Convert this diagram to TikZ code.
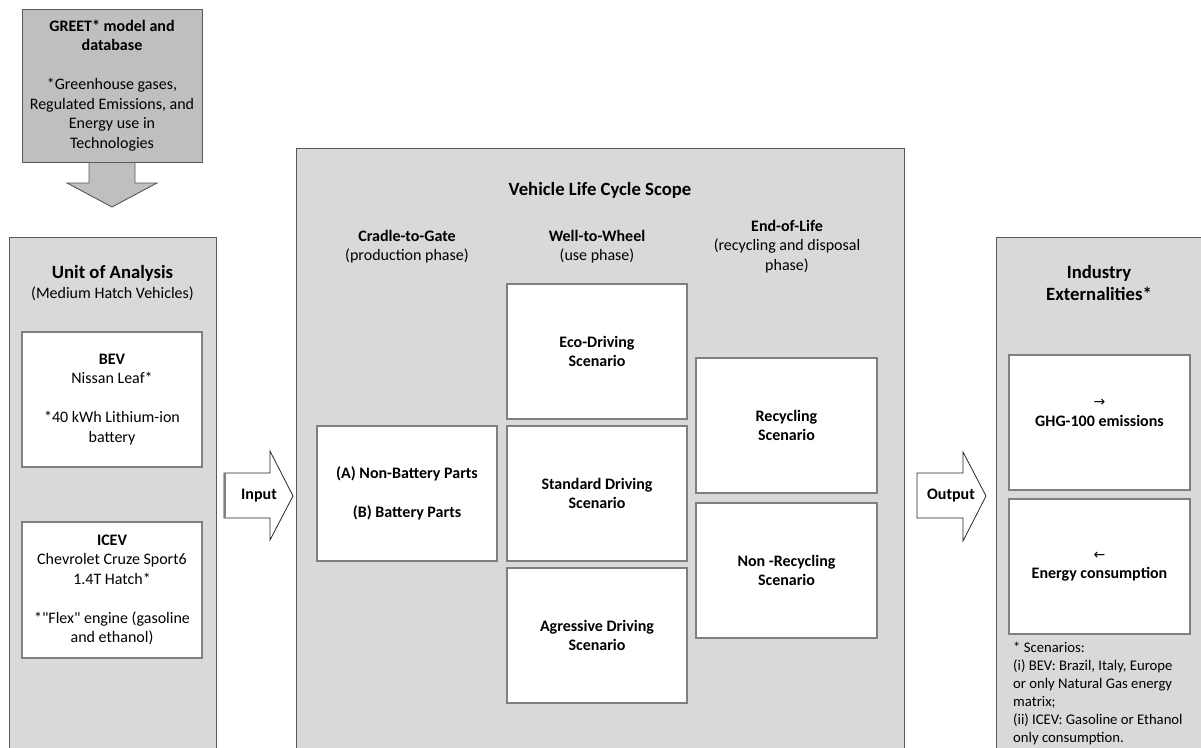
\documentclass[tikz,border=0pt]{standalone}
\usepackage{fontspec}
\setmainfont{Carlito}
\newfontfamily\symfont{DejaVu Sans}
\definecolor{panelgray}{HTML}{D9D9D9}
\definecolor{greetgray}{HTML}{BFBFBF}
\definecolor{edgegray}{HTML}{595959}
\definecolor{boxgray}{HTML}{7F7F7F}
\newcommand\mainsz{\fontsize{16}{19.5}\selectfont}
\newcommand\titlesz{\fontsize{18.7}{22.5}\selectfont\bfseries}
\newcommand\notesz{\fontsize{14.7}{18}\selectfont}
\newcommand\straightq{{\addfontfeatures{Ligatures=TeXOff}"}}
\begin{document}
\begin{tikzpicture}[x=1pt,y=-1pt,
  panelbox/.style={draw=edgegray, fill=panelgray, line width=0.9pt, inner sep=0pt, anchor=north west},
  whitebox/.style={draw=boxgray, fill=white, line width=1.1pt, inner sep=0pt, align=center, font=\mainsz, minimum width=180pt, minimum height=135pt},
  greetbox/.style={draw=edgegray, fill=greetgray, line width=0.9pt, inner sep=0pt, align=center, font=\mainsz, minimum width=180pt, minimum height=153pt},
  blockarrow/.style={draw=black!85, fill=white, line width=0.8pt, line join=miter},
  txt/.style={inner sep=0pt, align=center, font=\mainsz},
  ttl/.style={inner sep=0pt, align=center, font=\titlesz},
  note/.style={inner sep=0pt, align=left, font=\notesz, anchor=north west}]
\useasboundingbox (0,0) rectangle (1201,747);
\clip (0,0) rectangle (1201,747);

% GREET box and its arrow
\draw[draw=edgegray, fill=greetgray, line width=0.9pt, line join=miter]
  (89,160) -- (89,183) -- (67,183) -- (112,207) -- (157,183) -- (135,183) -- (135,160) -- cycle;
\node[greetbox] (greet) at (112,85.5)
  {\textbf{GREET* model and}\\\textbf{database}\\[19.5pt]*Greenhouse gases,\\Regulated Emissions, and\\Energy use in\\Technologies};

% Unit of analysis panel
\node[panelbox, minimum width=207pt, minimum height=600pt] (unit) at (9,237) {};
\node[ttl] (unitt) at (112.5,273) {Unit of Analysis};
\node[txt] (units) at (112.5,294) {(Medium Hatch Vehicles)};
\node[whitebox] (bev) at (112,399.5)
  {\textbf{BEV}\\Nissan Leaf*\\[19.5pt]*40 kWh Lithium-ion\\battery};
\node[whitebox, minimum height=136pt] (icev) at (112,590)
  {\textbf{ICEV}\\Chevrolet Cruze Sport6\\1.4T Hatch*\\[19.5pt]*\straightq Flex\straightq{} engine (gasoline\\and ethanol)};

% Input arrow
\draw[blockarrow] (224,473) -- (270,473) -- (270,451) -- (293,496) -- (270,540) -- (270,518) -- (224,518) -- cycle;
\draw[draw=gray, line width=2pt] (225,473) -- (225,518);
\node[txt, font=\mainsz\bfseries] (input) at (259,496) {Input};

% Scope panel
\node[panelbox, minimum width=608pt, minimum height=700pt] (scope) at (296,148) {};
\node[ttl] (scopet) at (600,190) {Vehicle Life Cycle Scope};
\node[txt] (hcg) at (407,246.5) {\textbf{Cradle-to-Gate}\\(production phase)};
\node[txt] (hww) at (597,246.5) {\textbf{Well-to-Wheel}\\(use phase)};
\node[txt] (heol) at (787,246.5) {\textbf{End-of-Life}\\(recycling and disposal\\phase)};

\node[whitebox, font=\mainsz\bfseries] (cradle) at (407,493.5)
  {(A) Non-Battery Parts\\[19.5pt](B) Battery Parts};
\node[whitebox, font=\mainsz\bfseries] (eco) at (597,351.5) {Eco-Driving\\Scenario};
\node[whitebox, font=\mainsz\bfseries] (std) at (597,493.5) {Standard Driving\\Scenario};
\node[whitebox, font=\mainsz\bfseries] (agr) at (597,635.5) {Agressive Driving\\Scenario};
\node[whitebox, minimum width=181pt, font=\mainsz\bfseries] (rec) at (786.5,425.5) {Recycling\\Scenario};
\node[whitebox, minimum width=181pt, font=\mainsz\bfseries] (nonrec) at (786.5,570.5) {Non -Recycling\\Scenario};

% Output arrow
\draw[blockarrow] (917,473) -- (963,473) -- (963,452) -- (986,496) -- (963,541) -- (963,518) -- (917,518) -- cycle;
\node[txt, font=\mainsz\bfseries] (output) at (951,496) {Output};

% Externalities panel
\node[panelbox, minimum width=210pt, minimum height=600pt] (ext) at (996,237) {};
\node[ttl] (extt) at (1099,283) {Industry\\Externalities*};
\node[whitebox, minimum width=181pt] (ghg) at (1099.5,422.5) {};
\node[txt] (ghgt) at (1099.5,413) {{\symfont\fontsize{14}{19.5}\selectfont →}\\\textbf{GHG-100 emissions}};
\node[whitebox, minimum width=181pt] (energy) at (1099.5,566.5)
  {{\symfont\fontsize{14}{19.5}\selectfont ←}\\\textbf{Energy consumption}};
\node[note] (notes) at (1013,642)
  {* Scenarios:\\(i) BEV: Brazil, Italy, Europe\\or only Natural Gas energy\\matrix;\\(ii) ICEV: Gasoline or Ethanol\\only consumption.};
\end{tikzpicture}
\end{document}
